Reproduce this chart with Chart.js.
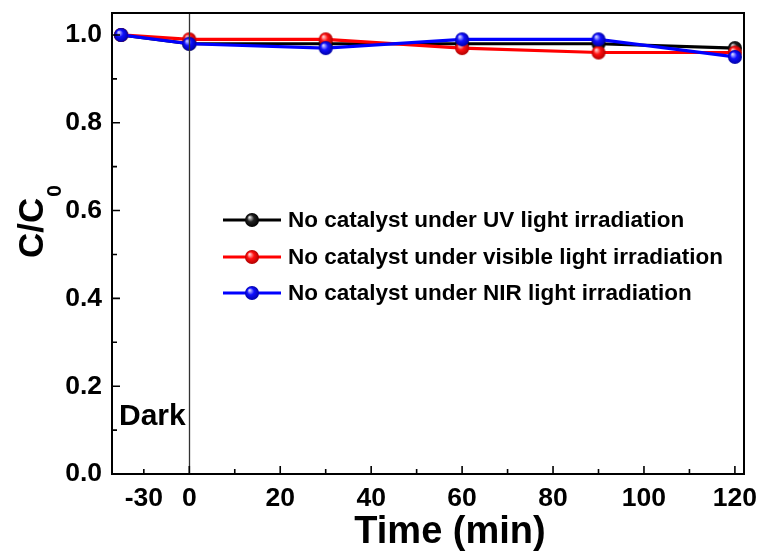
<!DOCTYPE html>
<html>
<head>
<meta charset="utf-8">
<script src="https://cdn.jsdelivr.net/npm/chart.js@4/dist/chart.umd.min.js"></script>
<style>
  html, body { margin: 0; padding: 0; background: #fff; }
  canvas { display: block; }
</style>
</head>
<body>
<canvas id="decayChart" width="761" height="555"></canvas>
<script>
// Sampling times (min); -30 is the dark adsorption step
const timeMin = [-30, 0, 30, 60, 90, 120];
// C/C0 for each light source
const uvRatio = [1.0, 0.98, 0.98, 0.98, 0.98, 0.97];
const visRatio = [1.0, 0.99, 0.99, 0.97, 0.96, 0.96];
const nirRatio = [1.0, 0.98, 0.97, 0.99, 0.99, 0.95];

const seriesNames = [
    'No catalyst under UV light irradiation',
    'No catalyst under visible light irradiation',
    'No catalyst under NIR light irradiation'
];

const yMajorTicks = [0, 0.2, 0.4, 0.6, 0.8, 1.0];
const yMinorTicks = [0.1, 0.3, 0.5, 0.7, 0.9];
const xMajorTicks = [0, 20, 40, 60, 80, 100, 120];
const xMinorTicks = [-10, 10, 30, 50, 70, 90, 110];
// the dark step is squeezed onto a shorter stretch of the axis
const darkScale = 0.5;
const darkTickAt = -10;
const darkTickLabel = '-30';

const FONT = '"Liberation Sans", Arial, sans-serif';

function axisPos(t) {
    return t < 0 ? t * darkScale : t;
}

function points(values) {
    return timeMin.map((t, i) => ({ x: axisPos(t), y: values[i] }));
}

// shaded ball marker
function makeBall(light, mid, dark) {
    const r = 7;
    const c = document.createElement('canvas');
    c.width = c.height = 2 * r + 2;
    const g = c.getContext('2d');
    const cx = r + 1, cy = r + 1;
    const grad = g.createRadialGradient(cx - r * 0.35, cy - r * 0.4, 0.5, cx, cy, r);
    grad.addColorStop(0, light);
    grad.addColorStop(0.45, mid);
    grad.addColorStop(1, dark);
    g.fillStyle = grad;
    g.beginPath();
    g.arc(cx, cy, r, 0, Math.PI * 2);
    g.fill();
    return c;
}

const balls = [
    makeBall('#e0e0e0', '#222', '#000'),
    makeBall('#ffd0d0', '#ff1010', '#b00000'),
    makeBall('#d0d0ff', '#1010ff', '#0000a8')
];
const colors = ['#000000', '#ff0000', '#0000ff'];

const framePlugin = {
    id: 'frame',
    afterDatasetsDraw(chart) {
        const { ctx, chartArea: a, scales: { x, y } } = chart;
        ctx.save();
        // divider between dark and light stages
        ctx.strokeStyle = '#333';
        ctx.lineWidth = 1.3;
        const x0 = Math.round(x.getPixelForValue(0)) + 0.5;
        ctx.beginPath();
        ctx.moveTo(x0, a.top);
        ctx.lineTo(x0, a.bottom);
        ctx.stroke();

        // box
        ctx.strokeStyle = '#000';
        ctx.lineWidth = 2;
        ctx.strokeRect(a.left, a.top, a.right - a.left, a.bottom - a.top);

        // inward ticks
        ctx.lineWidth = 1.6;
        ctx.beginPath();
        yMajorTicks.forEach(v => {
            const p = y.getPixelForValue(v);
            ctx.moveTo(a.left, p); ctx.lineTo(a.left + 8, p);
        });
        yMinorTicks.forEach(v => {
            const p = y.getPixelForValue(v);
            ctx.moveTo(a.left, p); ctx.lineTo(a.left + 5, p);
        });
        xMajorTicks.forEach(v => {
            const p = x.getPixelForValue(v);
            ctx.moveTo(p, a.bottom); ctx.lineTo(p, a.bottom - 8);
        });
        xMinorTicks.forEach(v => {
            const p = x.getPixelForValue(v);
            ctx.moveTo(p, a.bottom); ctx.lineTo(p, a.bottom - 5);
        });
        ctx.stroke();

        // stage label
        ctx.fillStyle = '#000';
        ctx.font = 'bold 30px ' + FONT;
        ctx.textAlign = 'left';
        ctx.textBaseline = 'alphabetic';
        ctx.fillText('Dark', a.left + 7, 425);

        // legend
        const rows = [220, 257, 293];
        ctx.font = 'bold 22.5px ' + FONT;
        ctx.textBaseline = 'middle';
        chart.data.datasets.forEach((ds, i) => {
            const yy = rows[i];
            ctx.strokeStyle = ds.borderColor;
            ctx.lineWidth = 3;
            ctx.beginPath();
            ctx.moveTo(223, yy);
            ctx.lineTo(281, yy);
            ctx.stroke();
            const b = ds.pointStyle;
            ctx.drawImage(b, 252 - b.width / 2, yy - b.height / 2);
            ctx.fillStyle = '#000';
            ctx.fillText(ds.label, 288, yy + 1);
        });

        // axis titles
        ctx.textBaseline = 'alphabetic';
        ctx.font = 'bold 38px ' + FONT;
        ctx.textAlign = 'center';
        ctx.fillText('Time (min)', 450, 543);

        ctx.translate(43, 258);
        ctx.rotate(-Math.PI / 2);
        ctx.textAlign = 'left';
        ctx.font = 'bold 35px ' + FONT;
        ctx.fillText('C/C', 0, 0);
        const w = ctx.measureText('C/C').width;
        ctx.font = 'bold 21px ' + FONT;
        ctx.fillText('0', w + 1, 18);
        ctx.restore();
    }
};

function noEdgePadding(scale) {
    scale.paddingLeft = 0;
    scale.paddingRight = 0;
    scale.paddingTop = 0;
    scale.paddingBottom = 0;
}

const valueSets = [uvRatio, visRatio, nirRatio];

new Chart(document.getElementById('decayChart'), {
    type: 'line',
    data: {
        datasets: valueSets.map((vals, i) => ({
            label: seriesNames[i],
            data: points(vals),
            borderColor: colors[i],
            backgroundColor: colors[i],
            borderWidth: 3.2,
            pointStyle: balls[i],
            pointRadius: 7,
            tension: 0,
            order: 3 - i
        }))
    },
    options: {
        responsive: false,
        animation: false,
        devicePixelRatio: 1,
        clip: false,
        layout: { padding: { top: 13, right: 17, left: 0, bottom: 0 } },
        plugins: {
            legend: { display: false },
            tooltip: { enabled: false }
        },
        scales: {
            x: {
                type: 'linear',
                min: -17,
                max: 122,
                grid: { display: false, drawTicks: false },
                border: { display: false },
                afterFit(scale) { scale.height = 81; noEdgePadding(scale); },
                afterBuildTicks(scale) {
                    scale.ticks = [darkTickAt].concat(xMajorTicks).map(v => ({ value: v }));
                },
                ticks: {
                    padding: 9,
                    color: '#000',
                    font: { family: FONT, size: 26.5, weight: 'bold' },
                    callback: v => (v === darkTickAt ? darkTickLabel : String(v))
                }
            },
            y: {
                min: 0,
                max: 1.05,
                grid: { display: false, drawTicks: false },
                border: { display: false },
                afterFit(scale) { scale.width = 112; noEdgePadding(scale); },
                afterBuildTicks(scale) {
                    scale.ticks = yMajorTicks.map(v => ({ value: v }));
                },
                ticks: {
                    padding: 10,
                    color: '#000',
                    font: { family: FONT, size: 26.5, weight: 'bold' },
                    callback: v => v.toFixed(1)
                }
            }
        }
    },
    plugins: [framePlugin]
});
</script>
</body>
</html>
